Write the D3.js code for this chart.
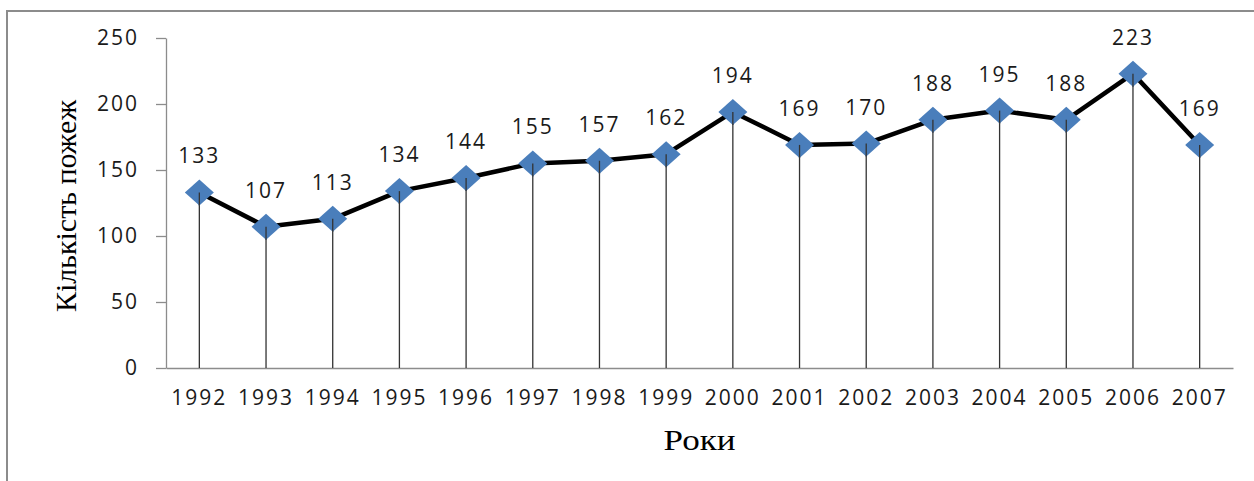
<!DOCTYPE html>
<html>
<head>
<meta charset="utf-8">
<script src="https://cdn.jsdelivr.net/npm/d3@7"></script>
<style>
  body { margin: 0; background: #fff; }
  svg { display: block; }
</style>
</head>
<body>
<div id="chart"></div>
<script>
const years = ["1992", "1993", "1994", "1995", "1996", "1997", "1998", "1999",
  "2000", "2001", "2002", "2003", "2004", "2005", "2006", "2007"];
const fires = [133, 107, 113, 134, 144, 155, 157, 162, 194, 169, 170, 188, 195, 188, 223, 169];
const yTicks = [0, 50, 100, 150, 200, 250];

const data = years.map((y, i) => ({ year: y, value: fires[i] }));

let width = 1254,
  height = 481,
  margin = ({ top: 38, right: 21, bottom: 113, left: 166 });

let x = d3.scaleBand()
  .domain(years)
  .range([margin.left, width - margin.right])
  .padding(0);

let y = d3.scaleLinear()
  .domain([0, 250])
  .range([height - margin.bottom, margin.top]);

const cx = d => x(d.year) + x.bandwidth() / 2;

const svg = d3.select("#chart")
  .append("svg")
  .attr("width", width)
  .attr("height", height)
  .attr("viewBox", [0, 0, width, height]);

// outer frame
svg.append("rect")
  .attr("x", 7)
  .attr("y", 11)
  .attr("width", width + 20)
  .attr("height", height + 20)
  .attr("fill", "none")
  .attr("stroke", "#8c8c8c")
  .attr("stroke-width", 2);

const tickFont = "'Open Sans', sans-serif";

// y axis
const gy = svg.append("g")
  .attr("transform", `translate(${margin.left},0)`)
  .call(d3.axisLeft(y).tickValues(yTicks).tickSize(10).tickPadding(17).tickSizeOuter(0));
gy.select(".domain").attr("stroke", "#8c8c8c").attr("stroke-width", 1.3);
gy.selectAll(".tick line").attr("stroke", "#8c8c8c").attr("stroke-width", 1.3);
gy.selectAll(".tick text")
  .attr("fill", "#1a1a1a")
  .style("font-family", tickFont)
  .style("font-size", "21px")
  .style("letter-spacing", "2px");

// x axis
const gx = svg.append("g")
  .attr("transform", `translate(0,${y(0)})`)
  .call(d3.axisBottom(x).tickSize(0).tickPadding(22).tickSizeOuter(0));
gx.select(".domain").attr("stroke", "#8c8c8c").attr("stroke-width", 1.3);
gx.selectAll(".tick text")
  .attr("fill", "#1a1a1a")
  .style("font-family", tickFont)
  .style("font-size", "21px")
  .style("letter-spacing", "2px");

// drop lines
svg.append("g")
  .selectAll("line")
  .data(data)
  .join("line")
  .attr("x1", cx)
  .attr("x2", cx)
  .attr("y1", d => y(d.value))
  .attr("y2", y(0))
  .attr("stroke", "#333")
  .attr("stroke-width", 1.3);

// series line
let line = d3.line()
  .x(cx)
  .y(d => y(d.value));

svg.append("path")
  .datum(data)
  .attr("fill", "none")
  .attr("stroke", "#000")
  .attr("stroke-width", 4.5)
  .attr("stroke-linejoin", "round")
  .attr("d", line);

// diamond markers
svg.append("g")
  .selectAll("path")
  .data(data)
  .join("path")
  .attr("transform", d => `translate(${cx(d)},${y(d.value)})`)
  .attr("d", "M0,-13L14.5,0L0,13L-14.5,0Z")
  .attr("fill", "#4a7ebb");

// drop line continues through the lower half of each marker
svg.append("g")
  .selectAll("line")
  .data(data)
  .join("line")
  .attr("x1", cx)
  .attr("x2", cx)
  .attr("y1", d => y(d.value))
  .attr("y2", d => y(d.value) + 13)
  .attr("stroke", "#333")
  .attr("stroke-width", 1.3);

// value labels
svg.append("g")
  .selectAll("text")
  .data(data)
  .join("text")
  .attr("x", cx)
  .attr("y", d => y(d.value) - 29)
  .attr("text-anchor", "middle")
  .attr("fill", "#1a1a1a")
  .style("font-family", tickFont)
  .style("font-size", "21px")
  .style("letter-spacing", "2px")
  .text(d => d.value);

// axis titles
svg.append("text")
  .attr("transform", `translate(${(margin.left + width - margin.right) / 2},450) scale(1.17,1)`)
  .attr("text-anchor", "middle")
  .style("font-family", "'Liberation Serif', serif")
  .style("font-size", "30px")
  .text("Роки");

svg.append("text")
  .attr("transform", "translate(76,206) rotate(-90)")
  .attr("text-anchor", "middle")
  .style("font-family", "'Liberation Serif', serif")
  .style("font-size", "30px")
  .text("Кількість пожеж");
</script>
</body>
</html>
